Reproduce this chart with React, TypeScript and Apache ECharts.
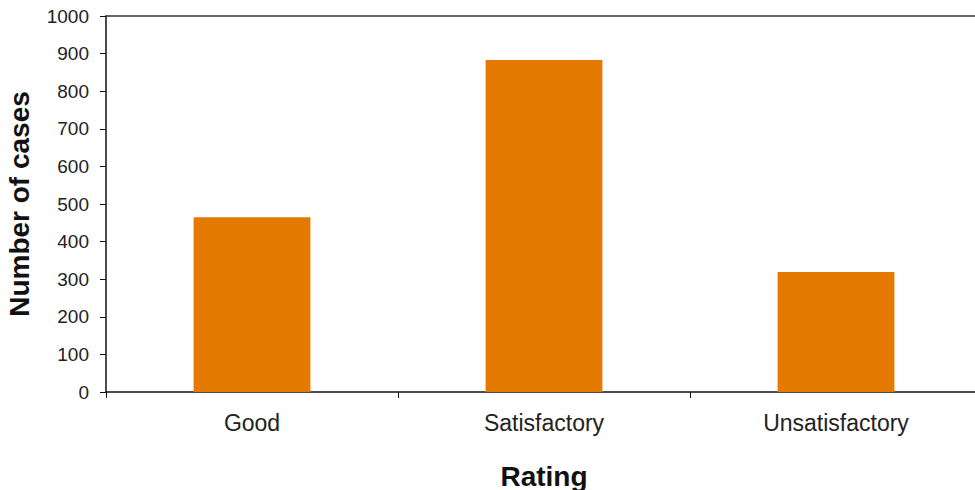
import React, { useEffect, useRef } from "react";
import * as echarts from "echarts";

const categories = ["Good", "Satisfactory", "Unsatisfactory"];
const cases = [465, 883, 319];
const yMin = 0;
const yMax = 1000;
const yInterval = 100;

export default function App() {
  const ref = useRef<HTMLDivElement>(null);
  useEffect(() => {
    const chart = echarts.init(ref.current!, null, { renderer: "svg" });
    const font = "'Liberation Sans', Arial, sans-serif";
    chart.setOption({
      animation: false,
      grid: {
        left: 106,
        top: 16,
        width: 876,
        bottom: 98,
        containLabel: false,
        outerBoundsMode: "none",
      },
      xAxis: [
        {
          type: "category",
          data: categories,
          name: "Rating",
          nameLocation: "middle",
          nameGap: 70,
          nameTextStyle: { fontFamily: font, fontSize: 28, fontWeight: "bold", color: "#111" },
          axisLine: { lineStyle: { color: "#111", width: 1.5 } },
          axisTick: { show: true, length: 6, alignWithLabel: false, lineStyle: { color: "#111" } },
          axisLabel: { fontFamily: font, fontSize: 23, color: "#222", margin: 19 },
        },
        {
          type: "category",
          data: categories,
          position: "top",
          axisLine: { lineStyle: { color: "#333", width: 1.5 } },
          axisTick: { show: false },
          axisLabel: { show: false },
        },
      ],
      yAxis: {
        type: "value",
        min: yMin,
        max: yMax,
        interval: yInterval,
        name: "Number of cases",
        nameLocation: "middle",
        nameGap: 73,
        nameTextStyle: { fontFamily: font, fontSize: 28, fontWeight: "bold", color: "#111" },
        axisLine: { show: true, lineStyle: { color: "#111", width: 1.5 } },
        axisTick: { show: true, length: 6, lineStyle: { color: "#111" } },
        axisLabel: {
          fontFamily: font,
          fontSize: 19,
          color: "#222",
          margin: 17,
          formatter: (v: number) => String(v),
        },
        splitLine: { show: false },
      },
      series: [
        {
          type: "bar",
          data: cases,
          barWidth: "40%",
          itemStyle: { color: "#E57A00" },
        },
      ],
    });
    return () => chart.dispose();
  }, []);
  return (
    <div
      ref={ref}
      style={{ position: "fixed", left: 0, top: 0, width: 975, height: 490, background: "#fff" }}
    />
  );
}
